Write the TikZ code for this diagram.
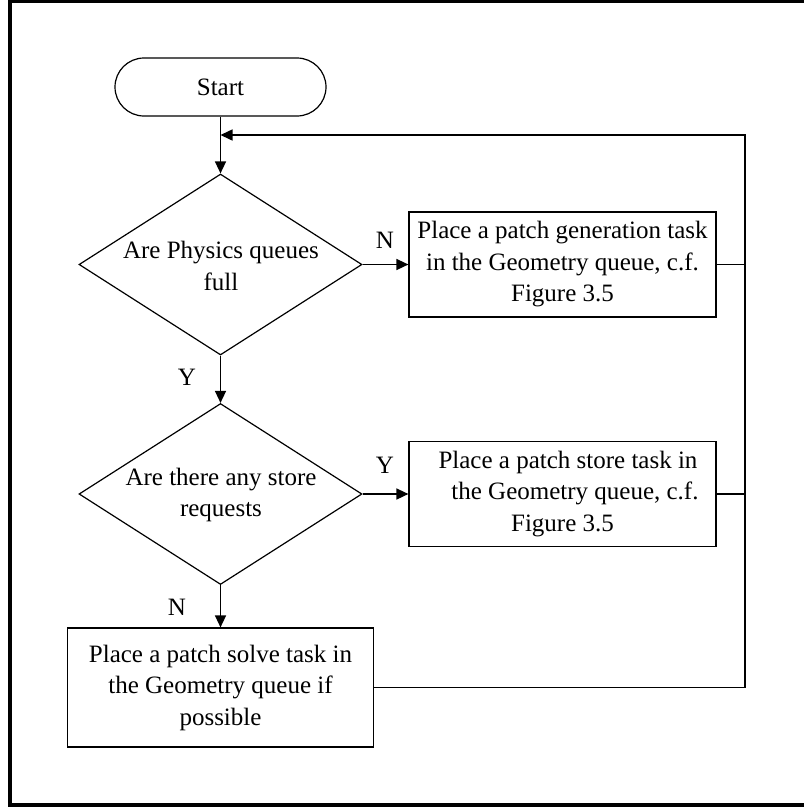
\documentclass[tikz,border=0pt]{standalone}
\usepackage{fontspec}
\setmainfont{Liberation Serif}
\usetikzlibrary{shapes.geometric,arrows.meta,calc}
\tikzset{
  txt/.style={font=\fontsize{25pt}{31.5pt}\selectfont},
  term/.style={draw, line width=1.2pt, rounded corners=29pt, minimum width=211pt, minimum height=58pt, inner sep=0pt, txt},
  decide/.style={draw, line width=1.2pt, diamond, minimum width=283pt, minimum height=181pt, inner sep=0pt},
  dtext/.style={txt, align=center, inner sep=0pt},
  procbox/.style={draw, line width=1.2pt, minimum width=307pt, minimum height=105pt, inner sep=0pt, align=center, txt},
  conn/.style={line width=1.5pt},
  arr/.style={conn, -{Triangle[length=12pt,width=11pt]}},
  lbl/.style={txt, inner sep=0pt}
}
\begin{document}
\begin{tikzpicture}[x=1pt,y=-1pt]
\useasboundingbox (0,0) rectangle (804,807);
\draw[line width=3.5pt] (810,1.5) -- (10,1.5) -- (10,805) -- (810,805);

\node[term] (start) at (220.5,87) {Start};
\node[decide] (d1) at (220.5,264.5) {};
\node[dtext] (d1t) at (221,266) {Are Physics queues\\full};
\node[procbox] (b1) at (562.5,264.5) {Place a patch generation task\\in the Geometry queue, c.f.\\Figure 3.5};
\node[decide] (d2) at (220.5,494) {};
\node[dtext] (d2t) at (221,495) {Are there any store\\requests};
\node[procbox] (b2) at (562.5,494) {\hspace*{11pt}Place a patch store task in\\\hspace*{25pt}the Geometry queue, c.f.\\Figure 3.5};
\node[procbox, minimum width=306pt, minimum height=119pt] (b3) at (220.5,687.5) {Place a patch solve task in\\the Geometry queue if\\possible};

\coordinate (j) at (220.5,135);
\coordinate (rt) at (745,135);

\draw[conn] (start.south) -- (j);
\draw[arr] (j) -- (d1.north);
\draw[arr] (d1.east) -- (b1.west);
\draw[arr] (d1.south) -- (d2.north);
\draw[arr] (d2.east) -- (b2.west);
\draw[arr] (d2.south) -- (b3.north);
\draw[conn] (b1.east) -- (b1.east -| rt);
\draw[conn] (b2.east) -- (b2.east -| rt);
\draw[arr] (b3.east) -| (rt) -- (j);

\node[lbl] (n1) at (385,240) {N};
\node[lbl] (y1) at (187,377) {Y};
\node[lbl] (y2) at (385,465) {Y};
\node[lbl] (n2) at (177,607) {N};
\end{tikzpicture}
\end{document}
